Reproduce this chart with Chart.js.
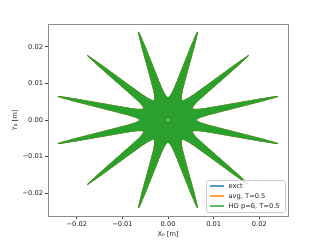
<!DOCTYPE html>
<html lang="en">
<head>
  <meta charset="UTF-8"/>
  <title>Star trajectory</title>
  <style>
    body { margin: 0; background: #fff; }
    canvas { display: block; }
  </style>
</head>
<body>
  <canvas id="chart" width="320" height="240"></canvas>

  <script src="https://cdn.jsdelivr.net/npm/chart.js"></script>

  <script>
  // arms of the star (degrees, data units)
  const armAngles = [15, 45, 75, 105, 135, 165, 195, 225, 255, 285, 315, 345];
  const armAlong = [0.0059, 0.0065, 0.0074, 0.0090, 0.0120, 0.0150, 0.0180, 0.0210, 0.0235, 0.0249];
  const armHalfWidth = [0.00155, 0.00125, 0.00105, 0.0009, 0.00074, 0.0006, 0.00046, 0.00032, 0.00015, 0.00003];
  const valleyRadius = 0.0058;
  const centerPoint = [{x: 0, y: 0}];

  const xTicks = [-0.02, -0.01, 0.00, 0.01, 0.02];
  const yTicks = [-0.02, -0.01, 0.00, 0.01, 0.02];
  const axisMin = -0.0263, axisMax = 0.0263;

  const seriesNames = ['exct', 'avg, T=0.5', 'HO p=6, T=0.5'];
  const seriesColors = ['#1f77b4', '#ff7f0e', '#2ca02c'];

  const FONT = {family: 'DejaVu Sans', size: 6.7};
  const TEXT = '#222';

  // outline of the filled region, walked counter-clockwise
  function starOutline() {
    const pts = [];
    armAngles.forEach(a => {
      const t = a * Math.PI / 180, c = Math.cos(t), s = Math.sin(t);
      const v = (a - 15) * Math.PI / 180;
      pts.push({x: valleyRadius * Math.cos(v), y: valleyRadius * Math.sin(v)});
      for (let i = 0; i < armAlong.length; i++)
        pts.push({x: armAlong[i]*c + armHalfWidth[i]*s, y: armAlong[i]*s - armHalfWidth[i]*c});
      for (let i = armAlong.length - 1; i >= 0; i--)
        pts.push({x: armAlong[i]*c - armHalfWidth[i]*s, y: armAlong[i]*s + armHalfWidth[i]*c});
    });
    pts.push(pts[0]);
    return pts;
  }
  const outline = starOutline();

  function fmt(v) {
    return (v < 0 ? '\u2212' : '') + Math.abs(v).toFixed(2);
  }

  // spines all round + legend drawn over the data, matplotlib style
  const framePlugin = {
    id: 'frame',
    afterDraw(chart) {
      const {ctx, chartArea: a} = chart;
      ctx.save();
      ctx.strokeStyle = '#8c8c8c';
      ctx.lineWidth = 1;
      ctx.strokeRect(Math.round(a.left) + 0.5, Math.round(a.top) + 0.5,
                     Math.round(a.right - a.left), Math.round(a.bottom - a.top));

      // legend box
      const bx = 206.5, by = 180.5, bw = 79, bh = 32;
      ctx.fillStyle = 'rgba(255,255,255,0.8)';
      ctx.strokeStyle = '#cccccc';
      ctx.beginPath();
      ctx.roundRect(bx, by, bw, bh, 2);
      ctx.fill();
      ctx.stroke();
      ctx.font = FONT.size + 'px ' + FONT.family;
      ctx.textBaseline = 'middle';
      ctx.textAlign = 'left';
      seriesNames.forEach((n, i) => {
        const y = 186 + i * 10;
        ctx.strokeStyle = seriesColors[i];
        ctx.lineWidth = 1.5;
        ctx.beginPath();
        ctx.moveTo(210, y);
        ctx.lineTo(224, y);
        ctx.stroke();
        ctx.fillStyle = TEXT;
        ctx.fillText(n, 228.5, y);
      });
      ctx.restore();
    }
  };

  new Chart(document.getElementById('chart'), {
    type: 'scatter',
    data: {
      datasets: [
        {label: seriesNames[0], data: outline, showLine: true, fill: false,
         borderColor: seriesColors[0], borderWidth: 0.8, pointRadius: 0, order: 3},
        {label: seriesNames[1], data: outline, showLine: true, fill: false,
         borderColor: seriesColors[1], borderWidth: 1.0, pointRadius: 0, order: 2},
        {label: seriesNames[2], data: outline, showLine: true, fill: 'shape',
         borderColor: seriesColors[2], backgroundColor: seriesColors[2],
         borderWidth: 0.9, pointRadius: 0, order: 1},
        {label: 'origin', data: centerPoint, pointRadius: 0.9, borderWidth: 0,
         backgroundColor: '#d6ccb0', order: 0}
      ]
    },
    options: {
      responsive: false,
      devicePixelRatio: 1,
      animation: false,
      events: [],
      layout: {padding: {top: 24, right: 32, left: 0, bottom: 0}},
      plugins: {legend: {display: false}, tooltip: {enabled: false}},
      scales: {
        x: {
          min: axisMin, max: axisMax,
          afterFit: s => { s.height = 24; },
          afterBuildTicks: s => { s.ticks = xTicks.map(v => ({value: v})); },
          grid: {drawOnChartArea: false, drawTicks: true, tickLength: 3, color: '#444'},
          border: {display: false},
          ticks: {font: FONT, color: TEXT, padding: 1, maxRotation: 0, callback: v => fmt(v)},
          title: {display: true, text: 'X\u2080 [m]', font: FONT, color: TEXT,
                  padding: {top: 0, bottom: 1.5}}
        },
        y: {
          min: axisMin, max: axisMax,
          afterFit: s => { s.width = 48; },
          afterBuildTicks: s => { s.ticks = yTicks.map(v => ({value: v})); },
          grid: {drawOnChartArea: false, drawTicks: true, tickLength: 3, color: '#444'},
          border: {display: false},
          ticks: {font: FONT, color: TEXT, padding: 2, callback: v => fmt(v)},
          title: {display: true, text: 'Y\u2080 [m]', font: FONT, color: TEXT,
                  padding: {top: 11.7, bottom: 0}}
        }
      }
    },
    plugins: [framePlugin]
  });
  </script>
</body>
</html>
